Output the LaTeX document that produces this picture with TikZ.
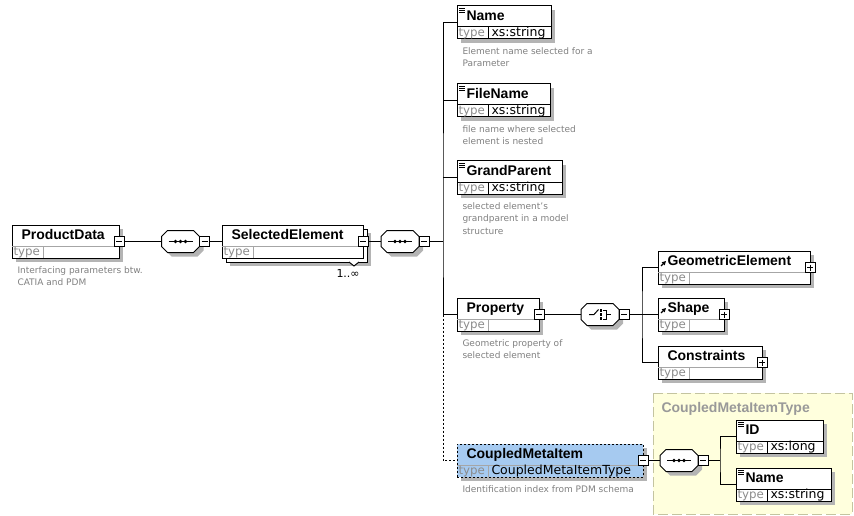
\documentclass[tikz,border=0pt]{standalone}
\usepackage{fontspec}
\setmainfont{DejaVu Sans}
\newfontfamily\namefont{Liberation Sans}
\usetikzlibrary{arrows.meta}

\definecolor{selblue}{RGB}{166,202,240}
\definecolor{typepanel}{RGB}{255,255,221}
\definecolor{typeedge}{RGB}{196,196,160}
\definecolor{shadowgrey}{RGB}{180,180,180}

\tikzset{
  elembox/.style={draw, fill=white, minimum height=33pt, inner sep=0pt, outer sep=0pt},
  selbox/.style={fill=selblue, dash pattern=on 2pt off 2pt},
  titletext/.style={anchor=base west, inner sep=0pt, font=\namefont\bfseries\fontsize{14}{16}\selectfont},
  typelabel/.style={anchor=base west, inner sep=0pt, text=black!45, font=\fontsize{11.8}{14}\selectfont},
  typevalue/.style={anchor=base west, inner sep=0pt, font=\fontsize{12.5}{14}\selectfont},
  descr/.style={anchor=north west, inner sep=0pt, align=left, text=black!50, font=\fontsize{9}{12.5}\selectfont},
  pmbox/.style={draw, fill=white, minimum size=10pt, inner sep=0pt, outer sep=0pt},
  shadowfill/.style={fill=shadowgrey},
  compnode/.style={minimum width=38pt, minimum height=22pt, inner sep=0pt, outer sep=0pt},
  dotline/.style={dash pattern=on 2pt off 2pt},
  refarrow/.style={-{Triangle[length=4pt,width=4pt]}, line width=1.3pt},
}

% drop shadow of an element box: left, top, width
\newcommand\xshadow[3]{\fill[shadowfill] (#1+4,#2+4) rectangle (#1+#3+4,#2+37);}

% element box: style, id, left, top, width, title, divider colour, type value
\newcommand\xelem[8]{%
  \node[elembox,#1,minimum width=#5pt,anchor=north west] (#2) at (#3,#4) {};
  \draw[#7] ([yshift=-21pt]#2.north west) -- ([yshift=-21pt]#2.north east)
            ([xshift=31pt,yshift=-21pt]#2.north west) -- ([xshift=31pt]#2.south west);
  \node[titletext] (#2-t) at ([xshift=9pt,yshift=-14.5pt]#2.north west) {#6};
  \node[typelabel] (#2-l) at ([xshift=1pt,yshift=-30.5pt]#2.north west) {type};
  \node[typevalue] (#2-v) at ([xshift=34pt,yshift=-30.5pt]#2.north west) {#8};
}

% simple-content marker in the header corner
\newcommand\xsimple[1]{%
  \foreach \k in {2.5,4.5,6.5}
    \draw[line width=0.8pt] ([xshift=2pt,yshift=-\k pt]#1.north west) -- ++(6,0);}

% reference marker in the header corner
\newcommand\xref[1]{\draw[refarrow] ([xshift=3pt,yshift=-15pt]#1.north west) -- ++(5,-5);}

% collapse / expand boxes
\newcommand\xminus[2]{%
  \node[pmbox] (#1) at (#2) {};
  \draw ([xshift=2pt]#1.west) -- ([xshift=-2pt]#1.east);}
\newcommand\xplus[2]{%
  \xminus{#1}{#2}%
  \draw ([yshift=-2pt]#1.north) -- ([yshift=2pt]#1.south);}

% compositor octagon: id, centre x, centre y
\newcommand\xcomp[3]{%
  \fill[shadowfill,shift={(#2+4,#3+4)}]
    (-19,-5) -- (-13,-11) -- (13,-11) -- (19,-5) -- (19,5) -- (13,11) -- (-13,11) -- (-19,5) -- cycle;
  \draw[fill=white,shift={(#2,#3)}]
    (-19,-5) -- (-13,-11) -- (13,-11) -- (19,-5) -- (19,5) -- (13,11) -- (-13,11) -- (-19,5) -- cycle;
  \node[compnode] (#1) at (#2,#3) {};}

% sequence symbol
\newcommand\xseqmark[1]{%
  \draw ([xshift=-12pt]#1.center) -- ([xshift=12pt]#1.center);
  \foreach \d in {-5,0,5}
    \fill ([xshift=\d pt]#1.center) circle (1.8pt);}

% choice symbol
\newcommand\xchoicemark[1]{%
  \begin{scope}[shift={(#1.center)}]
    \draw (-11,0) -- (-6,0) -- (-1.5,-5);
    \foreach \d in {-4,0,4} \fill (-0.5,\d-1.2) rectangle (2,\d+1.2);
    \draw (3,-4.5) -- (6,-4.5) -- (6,4.5) -- (3,4.5);
    \draw (6,0) -- (11,0);
  \end{scope}}

\begin{document}
\begin{tikzpicture}[x=1pt, y=-1pt, line width=1pt]
\useasboundingbox (0,0) rectangle (854,516);

% complex type panel
\filldraw[fill=typepanel, draw=typeedge, dash pattern=on 10pt off 4pt] (653,393) rectangle (852,514);
\node[anchor=base west, inner sep=0pt, text=black!40, font=\namefont\bfseries\fontsize{14}{16}\selectfont]
  (cmt-title) at (661,412) {CoupledMetaItemType};

% shadows
\xshadow{12}{225}{107}
\xshadow{226}{229}{141}
\xshadow{457}{6}{94}
\xshadow{457}{84}{93}
\xshadow{457}{161}{105}
\xshadow{457}{298}{82}
\xshadow{658}{251}{152}
\xshadow{658}{298}{66}
\xshadow{658}{346}{104}
\xshadow{457}{444}{186}
\xshadow{736}{420}{87}
\xshadow{736}{468}{95}

% root element
\xelem{}{pd}{12}{225}{107}{ProductData}{black!35}{}
\node[descr] (pd-d) at (17,266) {Interfacing parameters btw.\\CATIA and PDM};

% repeated element (stacked)
\draw[fill=white] (226,229) rectangle ++(141,33);
\filldraw[fill=white] (349,262) -- (354,266) -- (359,262);
\xelem{}{se}{222}{225}{141}{SelectedElement}{black!35}{}
\node[typevalue, font=\fontsize{11}{13}\selectfont] (se-occ) at (336,277) {1..∞};

% children of SelectedElement
\xelem{}{nm}{457}{6}{94}{Name}{black}{xs:string}
\xsimple{nm}
\node[descr] (nm-d) at (462,47) {Element name selected for a\\Parameter};

\xelem{}{fn}{457}{84}{93}{FileName}{black}{xs:string}
\xsimple{fn}
\node[descr] (fn-d) at (462,125) {file name where selected\\element is nested};

\xelem{}{gp}{457}{161}{105}{GrandParent}{black}{xs:string}
\xsimple{gp}
\node[descr] (gp-d) at (462,202) {selected element's\\grandparent in a model\\structure};

\xelem{}{pr}{457}{298}{82}{Property}{black!35}{}
\node[descr] (pr-d) at (462,339) {Geometric property of\\selected element};

\xelem{selbox}{cm}{457}{444}{186}{CoupledMetaItem}{black!35}{CoupledMetaItemType}
\node[descr] (cm-d) at (462,485) {Identification index from PDM schema};

% children of Property
\xelem{}{ge}{658}{251}{152}{GeometricElement}{black!35}{}
\xref{ge}
\xelem{}{sh}{658}{298}{66}{Shape}{black!35}{}
\xref{sh}
\xelem{}{cs}{658}{346}{104}{Constraints}{black!35}{}

% children of CoupledMetaItemType
\xelem{}{id}{736}{420}{87}{ID}{black}{xs:long}
\xsimple{id}
\xelem{}{nm2}{736}{468}{95}{Name}{black}{xs:string}
\xsimple{nm2}

% compositors
\xcomp{sq1}{180.5}{241.5}
\xseqmark{sq1}
\xcomp{sq2}{400}{241.5}
\xseqmark{sq2}
\xcomp{ch}{600}{314.5}
\xchoicemark{ch}
\xcomp{sq3}{679}{460.5}
\xseqmark{sq3}

% collapse / expand boxes
\xminus{pd-m}{pd.east}
\xminus{se-m}{se.east}
\xminus{pr-m}{pr.east}
\xminus{cm-m}{cm.east}
\xminus{sq1-m}{204.5,241.5}
\xminus{sq2-m}{424,241.5}
\xminus{ch-m}{624,314.5}
\xminus{sq3-m}{703,460.5}
\xplus{ge-p}{ge.east}
\xplus{sh-p}{sh.east}
\xplus{cs-p}{cs.east}

% connectors
\draw (pd-m.east) -- (sq1.west);
\draw (sq1-m.east) -- (se.west);
\draw (se-m.east) -- (sq2.west);

\coordinate (b1) at (443,241.5);
\draw (sq2-m.east) -- (b1);
\draw (nm.west) -| (b1) |- (pr.west);
\draw (fn.west) -- (fn.west -| b1);
\draw (gp.west) -- (gp.west -| b1);
\draw[dotline] (pr.west -| b1) |- (cm.west);

\draw (pr-m.east) -- (ch.west);
\coordinate (b2) at (642,314.5);
\draw (ch-m.east) -- (sh.west);
\draw (ge.west) -| (b2) |- (cs.west);

\draw (cm-m.east) -- (sq3.west);
\coordinate (b3) at (720,460.5);
\draw (sq3-m.east) -- (b3);
\draw (id.west) -| (b3) |- (nm2.west);
\end{tikzpicture}
\end{document}
